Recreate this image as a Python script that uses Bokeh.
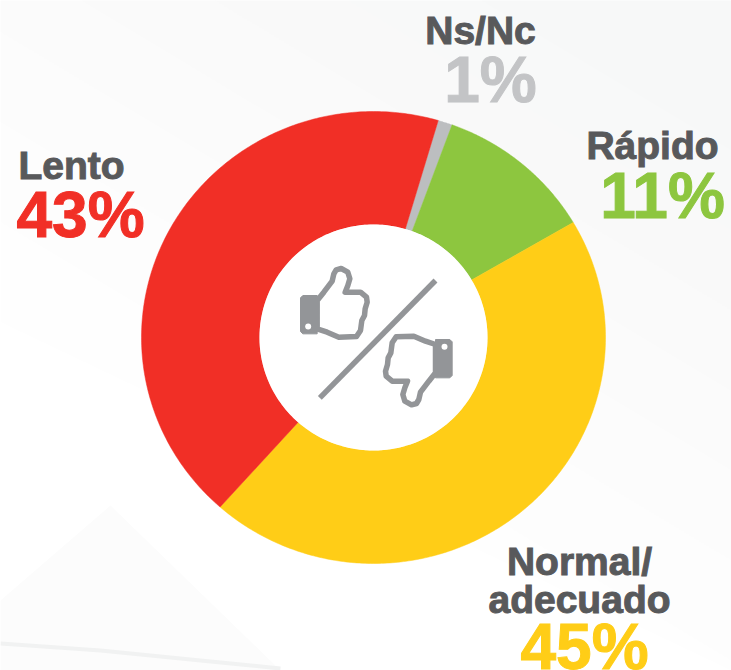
import numpy as np
from bokeh.plotting import figure
from bokeh.models import Range1d
from bokeh.core.properties import value
from bokeh.embed import file_html
from bokeh.resources import INLINE

# --- data ---
categories = ["Ns/Nc", "Rápido", "Normal/adecuado", "Lento"]
shares = [1, 11, 45, 43]
colors = ["#bcbec0", "#8dc63f", "#ffcd17", "#f12f26"]
pct_colors = ["#c3c4c6", "#8dc63f", "#ffcd17", "#f12f26"]
label_lines = [["Ns/Nc"], ["Rápido"], ["Normal/", "adecuado"], ["Lento"]]

# --- layout ---
W, H = 731, 670
CX, CY, RX, RY = 373, 337, 232, 226
INNER_X, INNER_Y = 114, 113
START_DEG = 16.2
GREY = "#939598"
DARK = "#58595b"
FONT = value("Liberation Sans")

p = figure(width=W, height=H, x_range=Range1d(0, W), y_range=Range1d(H, 0),
           output_backend="svg", toolbar_location=None, min_border=0,
           outline_line_color=None,
           background_fill_color="#ffffff", border_fill_color="#ffffff")
p.axis.visible = False
p.grid.visible = False

# faint page background: nested diagonal bands, one grey level apart
band_colors = ["#fefefe", "#fdfdfd", "#fcfcfc", "#fbfbfb", "#fafafa", "#f9f9f9", "#f8f9f9", "#f7f8f8"]
for k, c in zip([760, 660, 560, 470, 390, 310, 230, 150], band_colors):
    left = k - 0.6 * W
    if left > 0:
        p.patch([0, W, W, 0], [0, 0, min(k, H), left], fill_color=c, line_color=None)
    else:
        p.patch([W - k / 0.6, W, W], [0, 0, min(k, H)], fill_color=c, line_color=None)
p.patch([0, 110, 280, 0], [600, 505, 670, 670], fill_color="#fcfcfc", line_color=None)
p.line([0, 100, 200, 280], [643, 650, 660, 668], line_color="#f1f2f2", line_width=4)

# ring: elliptical sectors built from the shares
edges = START_DEG + np.concatenate([[0], np.cumsum(shares)]) * 3.6
for i, c in enumerate(colors):
    a = np.radians(np.linspace(edges[i], edges[i + 1], 240))
    xs = np.concatenate([CX + RX * np.sin(a), CX + INNER_X * np.sin(a[::-1])])
    ys = np.concatenate([CY - RY * np.cos(a), CY - INNER_Y * np.cos(a[::-1])])
    p.patch(xs, ys, fill_color=c, line_color=c, line_width=0.5)

# inner white disc edge
a = np.radians(np.linspace(0, 360, 240))
p.patch(CX + INNER_X * np.sin(a), CY - INNER_Y * np.cos(a), fill_color="#ffffff", line_color=None)

# icon: zoom-crop coordinates -> page pixels
def px(x, y):
    return 270 + np.asarray(x, float) / 3, 240 + np.asarray(y, float) / 3

hand_x = [140, 160, 185, 190, 197, 212, 232, 238, 232, 224, 270, 288, 290, 284, 282, 274, 270, 258, 205, 170, 140]
hand_y = [180, 155, 122, 100, 88, 84, 95, 115, 135, 155, 155, 170, 185, 205, 225, 240, 270, 288, 290, 275, 265]
cuff_x = [97, 140, 140, 97, 90, 90]
cuff_y = [165, 165, 280, 280, 273, 172]
for flip in (False, True):
    hx, hy = np.array(hand_x, float), np.array(hand_y, float)
    cx, cy = np.array(cuff_x, float), np.array(cuff_y, float)
    hole = (113.0, 258.0)
    if flip:
        hx, hy, cx, cy = 635 - hx, 577 - hy, 635 - cx, 577 - cy
        hole = (635 - 113.0, 577 - 258.0)
    a, b = px(hx, hy)
    p.patch(a, b, fill_color="#ffffff", line_color=GREY, line_width=5.5, line_join="round")
    a, b = px(cx, cy)
    p.patch(a, b, fill_color=GREY, line_color=GREY, line_width=1, line_join="round")
    a, b = px(*hole)
    p.scatter([float(a)], [float(b)], size=6, marker="circle", fill_color="#ffffff", line_color=None)
a, b = px([495, 148], [120, 472])
p.line(a, b, line_color=GREY, line_width=5.5)

# labels (anchor y values allow for where this text baseline lands)
label_pos = [[(480, 30)], [(652, 145)], [(579, 561), (579, 599)], [(71, 165)]]
pct_pos = [(490, 79), (662, 195), (584, 646), (80, 214)]
for i, lines in enumerate(label_lines):
    for t, (x, y) in zip(lines, label_pos[i]):
        p.text([x], [y], text=[t], text_font=FONT, text_font_style="bold", text_font_size="39px",
               text_color=DARK, text_align="center", text_baseline="alphabetic", outline_color=DARK)
    x, y = pct_pos[i]
    p.text([x], [y], text=[f"{shares[i]}%"], text_font=FONT, text_font_style="bold",
           text_font_size="64px", text_color=pct_colors[i], text_align="center",
           text_baseline="alphabetic", outline_color=pct_colors[i])

open("out.html", "w").write(file_html(p, INLINE))
